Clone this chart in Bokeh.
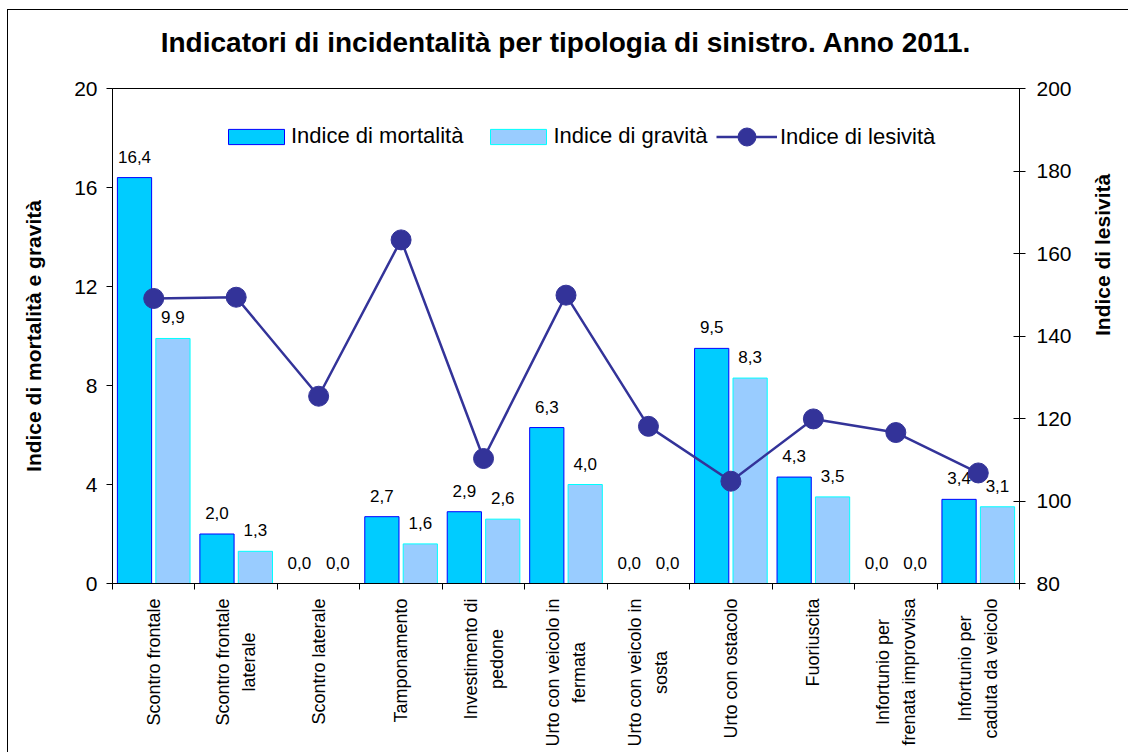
import math
from bokeh.plotting import figure
from bokeh.layouts import column
from bokeh.models import (ColumnDataSource, Range1d, LinearAxis, FixedTicker,
                          Legend, LegendItem, Label)
from bokeh.transform import dodge
from bokeh.core.properties import value
from bokeh.embed import file_html
from bokeh.resources import INLINE

# ---------------- data ----------------
categories = [
    "Scontro frontale",
    "Scontro frontale\nlaterale",
    "Scontro laterale",
    "Tamponamento",
    "Investimento di\npedone",
    "Urto con veicolo in\nfermata",
    "Urto con veicolo in\nsosta",
    "Urto con ostacolo",
    "Fuoriuscita",
    "Infortunio per\nfrenata improvvisa",
    "Infortunio per\ncaduta da veicolo",
]
mortalita = [16.4, 2.0, 0.0, 2.7, 2.9, 6.3, 0.0, 9.5, 4.3, 0.0, 3.4]
gravita = [9.9, 1.3, 0.0, 1.6, 2.6, 4.0, 0.0, 8.3, 3.5, 0.0, 3.1]
lesivita = [149.1, 149.4, 125.4, 163.3, 110.3, 149.9, 118.1, 104.8, 119.9, 116.6, 106.8]
left_ticks = [0, 4, 8, 12, 16, 20]
right_ticks = [80, 100, 120, 140, 160, 180, 200]

title_text = "Indicatori di incidentalità per tipologia di sinistro. Anno 2011."
left_label = "Indice di mortalità e gravità"
right_label = "Indice di lesività"
names = ["Indice di mortalità", "Indice di gravità", "Indice di lesività"]

FONT = "Liberation Sans"
C_MORT = "#00CCFF"
C_MORT_LINE = "#0000FF"
C_GRAV = "#99CCFF"
C_GRAV_LINE = "#00FFFF"
C_LES = "#333399"

W = 1120
BL, BR = 104, 105          # side borders so all frames line up
H_TITLE, H_CHART, H_LAB = 65, 520, 157


def fmt(v):
    return f"{v:.1f}".replace(".", ",")


n = len(categories)
pos = [i + 0.5 for i in range(n)]
src = ColumnDataSource(dict(
    pos=pos,
    mort=mortalita,
    grav=gravita,
    les=lesivita,
    mort_lbl=[fmt(v) for v in mortalita],
    grav_lbl=[fmt(v) for v in gravita],
))
xr = Range1d(0, n)


def bare(height):
    f = figure(width=W, height=height, x_range=xr, y_range=Range1d(0, 1),
               output_backend="svg", toolbar_location=None,
               x_axis_location=None, y_axis_location=None,
               min_border=0, min_border_left=BL, min_border_right=BR)
    f.xgrid.visible = False
    f.ygrid.visible = False
    f.outline_line_color = None
    f.background_fill_color = "white"
    f.border_fill_color = "white"
    return f


# ---------------- title ----------------
pt = bare(H_TITLE)
pt.add_layout(Label(x=n / 2, y=33, y_units="screen", text=title_text,
                    text_align="center", text_baseline="alphabetic",
                    text_font=FONT, text_font_size="28px", text_font_style="bold",
                    text_color="black"))

# ---------------- chart ----------------
p = figure(width=W, height=H_CHART,
           x_range=xr, y_range=Range1d(left_ticks[0], left_ticks[-1]),
           output_backend="svg", toolbar_location=None,
           min_border=0, min_border_left=BL, min_border_right=BR,
           min_border_top=13, min_border_bottom=12)
p.extra_y_ranges = {"les": Range1d(right_ticks[0], right_ticks[-1])}
p.xgrid.visible = False
p.ygrid.visible = False
p.outline_line_color = "black"
p.outline_line_width = 1
p.background_fill_color = "white"
p.border_fill_color = "white"

DX = 0.233
BW = 0.415
r_mort = p.vbar(x=dodge("pos", -DX), top="mort", width=BW, bottom=0, source=src,
                fill_color=C_MORT, line_color=C_MORT_LINE, line_width=1)
r_grav = p.vbar(x=dodge("pos", DX), top="grav", width=BW, bottom=0, source=src,
                fill_color=C_GRAV, line_color=C_GRAV_LINE, line_width=1)

p.text(x=dodge("pos", -DX), y="mort", text="mort_lbl", source=src,
       text_align="center", text_baseline="middle", y_offset=-21,
       text_font=value(FONT), text_font_size="17px", text_color="black")
p.text(x=dodge("pos", DX), y="grav", text="grav_lbl", source=src,
       text_align="center", text_baseline="middle", y_offset=-21,
       text_font=value(FONT), text_font_size="17px", text_color="black")

r_line = p.line(x="pos", y="les", source=src, y_range_name="les",
                line_color=C_LES, line_width=2.5)
r_pts = p.scatter(x="pos", y="les", source=src, y_range_name="les",
                  size=20, fill_color=C_LES, line_color=C_LES)

# x axis: only ticks at the category boundaries
xa = p.xaxis[0]
xa.ticker = FixedTicker(ticks=[], minor_ticks=list(range(n + 1)))
xa.major_tick_line_color = None
xa.major_tick_in = 0
xa.major_tick_out = 6
xa.minor_tick_in = 0
xa.minor_tick_out = 6
xa.minor_tick_line_color = "black"
xa.major_label_text_font_size = "0px"
xa.major_label_standoff = 0
xa.axis_line_color = "black"

# left axis
ya = p.yaxis[0]
ya.ticker = FixedTicker(ticks=left_ticks)
ya.major_label_text_font = FONT
ya.major_label_text_font_size = "21px"
ya.major_label_text_color = "black"
ya.major_tick_in = 0
ya.major_tick_out = 6
ya.minor_tick_line_color = None
ya.major_label_standoff = 9
ya.axis_line_color = "black"
ya.axis_label = left_label
ya.axis_label_text_font = FONT
ya.axis_label_text_font_size = "21px"
ya.axis_label_text_font_style = "bold"
ya.axis_label_text_color = "black"
ya.axis_label_standoff = 26

# right axis
ra = LinearAxis(y_range_name="les", ticker=FixedTicker(ticks=right_ticks))
ra.major_label_text_font = FONT
ra.major_label_text_font_size = "21px"
ra.major_label_text_color = "black"
ra.major_tick_in = 6
ra.major_tick_out = 6
ra.minor_tick_line_color = None
ra.major_label_standoff = 11
ra.axis_line_color = "black"
ra.axis_label = right_label
ra.axis_label_text_font = FONT
ra.axis_label_text_font_size = "21px"
ra.axis_label_text_font_style = "bold"
ra.axis_label_text_color = "black"
ra.axis_label_standoff = 28
try:
    ra.axis_label_orientation = math.pi / 2
except Exception:
    pass
p.add_layout(ra, "right")

legend_bars = Legend(items=[
    LegendItem(label=names[0], renderers=[r_mort]),
    LegendItem(label=names[1], renderers=[r_grav]),
], location=(109, 434), orientation="horizontal",
    glyph_width=70, glyph_height=19, label_standoff=0, spacing=20,
    padding=0, margin=0, border_line_color=None, background_fill_alpha=0,
    label_text_font=FONT, label_text_font_size="22px", label_text_color="black")
p.add_layout(legend_bars)

legend_line = Legend(items=[
    LegendItem(label=names[2], renderers=[r_line, r_pts]),
], location=(604, 424), orientation="horizontal",
    glyph_width=61, glyph_height=45, label_standoff=3,
    padding=0, margin=0, border_line_color=None, background_fill_alpha=0,
    label_text_font=FONT, label_text_font_size="22px", label_text_color="black")
p.add_layout(legend_line)

# ---------------- category labels (vertical, centred lines) ----------------
pl = bare(H_LAB)
for i in range(n):
    kw = dict(x=pos[i], y=H_LAB - 3, y_units="screen", text=categories[i],
              angle=math.pi / 2, text_font=FONT, text_font_size="18px",
              text_color="black", text_line_height=1.3)
    try:
        lab = Label(text_align="center", anchor="center_right", **kw)
    except Exception:
        lab = Label(text_align="right", text_baseline="middle", **kw)
    pl.add_layout(lab)

layout = column(pt, p, pl, spacing=0)
layout.styles = {"border-top": "1px solid black", "border-left": "1px solid black",
                 "margin-left": "7px", "margin-top": "9px"}

open("out.html", "w").write(file_html(layout, INLINE))
